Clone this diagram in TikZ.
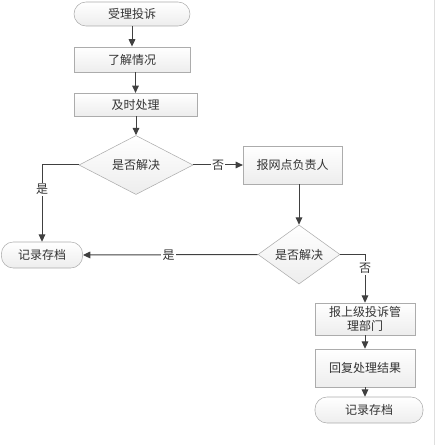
\documentclass[tikz,border=0pt]{standalone}
\usepackage{fontspec}
\newfontfamily\cjk{Noto Sans CJK SC}
\usepackage{tikz}
\usetikzlibrary{arrows.meta}
\usetikzlibrary{shapes.geometric}
\usetikzlibrary{calc}

\tikzset{
  txt/.style={font=\cjk\fontsize{9}{11}\selectfont, text=black!80},
  box/.style={txt, draw=gray!65, top color=white, bottom color=gray!14, inner sep=1pt, align=center},
  term/.style={box, rounded corners=9pt},
  choice/.style={box, diamond, inner sep=0pt},
  link/.style={draw=black!75, line width=0.75pt},
  arr/.style={link, -{Triangle[length=5.5pt,width=5pt]}},
  lbl/.style={txt, fill=white, inner sep=1pt}
}

\begin{document}
\begin{tikzpicture}[x=0.75pt, y=-0.75pt]
\useasboundingbox (0,0) rectangle (435,445);
\draw [gray!25] (434,0) -- (434,445);

\node [term, minimum width=87pt, minimum height=18pt] (start) at (132,14) {受理投诉};
\node [box, minimum width=87pt, minimum height=19pt] (learn) at (132,59.5) {了解情况};
\node [box, minimum width=92pt, minimum height=17pt] (handle) at (135.5,104.5) {及时处理};
\node [choice, minimum width=85.5pt, minimum height=27pt] (ask1) at (136,165) {是否解决};
\node [term, minimum width=61pt, minimum height=19.5pt] (rec1) at (42,255) {记录存档};
\node [box, minimum width=74pt, minimum height=28.5pt] (branch) at (292.5,165) {报网点负责人};
\node [choice, minimum width=61.5pt, minimum height=26pt] (ask2) at (299,254.5) {是否解决};
\node [box, minimum width=75pt, minimum height=24pt] (upper) at (365,319) {报上级投诉管\\理部门};
\node [box, minimum width=75pt, minimum height=28.5pt] (reply) at (365,368) {回复处理结果};
\node [term, minimum width=81pt, minimum height=19.5pt] (rec2) at (369,410) {记录存档};

\draw [arr] (start) -- (learn);
\draw [arr] (learn.south -| handle.north) -- (handle.north);
\draw [arr] (handle.south -| ask1.north) -- (ask1.north);
\draw [arr] (ask1.west) -| (rec1.north) node [lbl, pos=0.66] {是};
\draw [arr] (ask1.east) -- (branch.west) node [lbl, midway] {否};
\draw [arr] (branch.south -| ask2.north) -- (ask2.north);
\draw [arr] (ask2.west) -- (rec1.east) node [lbl, pos=0.51] {是};
\draw [arr] (ask2.east) -| (upper.north) node [lbl, pos=0.64] {否};
\draw [arr] (upper) -- (reply);
\draw [arr] (reply.south) -- (reply.south |- rec2.north);
\end{tikzpicture}
\end{document}
